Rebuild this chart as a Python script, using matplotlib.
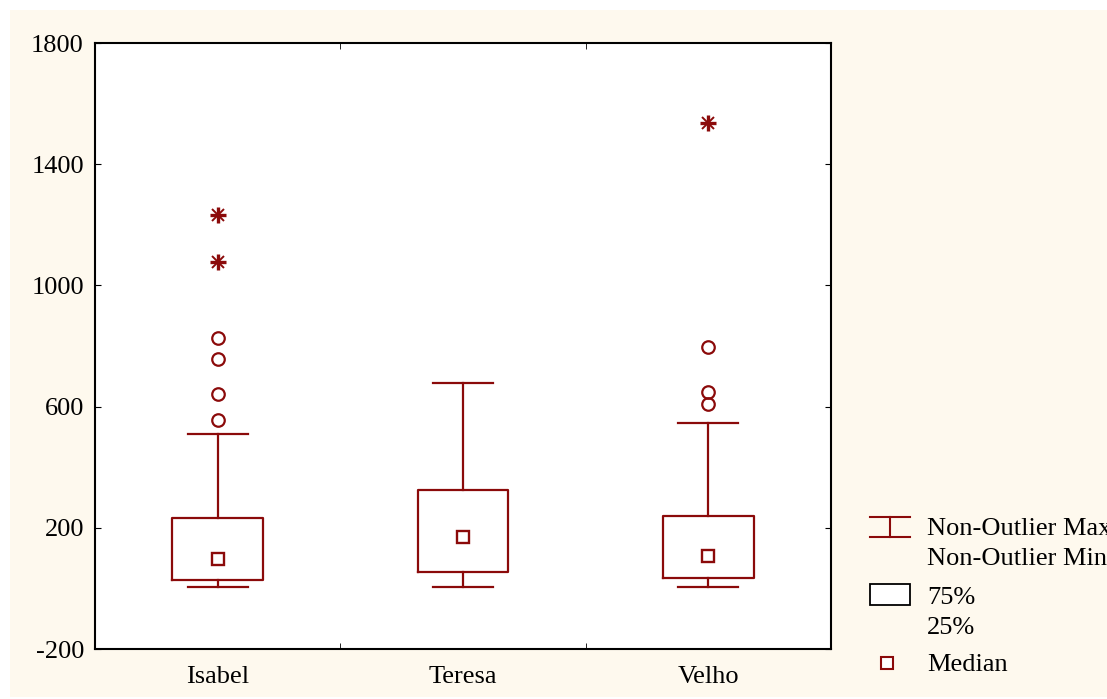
import matplotlib
matplotlib.use('Agg')
import matplotlib.pyplot as plt
from matplotlib.patches import Rectangle
from matplotlib.lines import Line2D

plt.rcParams['font.family'] = ['Liberation Serif', 'DejaVu Serif']
plt.rcParams['axes.unicode_minus'] = False

# Data
groups = ['Isabel', 'Teresa', 'Velho']
q1 = [28, 54, 34]
q3 = [232, 325, 239]
medians = [97, 170, 107]
whisk_lo = [5, 5, 5]
whisk_hi = [510, 678, 546]
outliers = [[826, 757, 642, 556], [], [797, 648, 609]]
extremes = [[1232, 1077], [], [1536]]

red = '#8B0A0A'
cream = '#FEF9EE'

fig = plt.figure(figsize=(11.07, 6.99), dpi=100)
fig.patches.append(Rectangle((10 / 1107, 0.003), 1, 1 - 10 / 699 - 0.003,
                             transform=fig.transFigure, facecolor=cream,
                             edgecolor='none', zorder=-10))

ax = fig.add_axes([95 / 1107, 1 - 649 / 699, (831 - 95) / 1107, (649 - 43) / 699])
ax.set_facecolor('white')

positions = [1, 2, 3]
stats = []
for i in range(3):
    stats.append(dict(med=medians[i], q1=q1[i], q3=q3[i],
                      whislo=whisk_lo[i], whishi=whisk_hi[i], fliers=[]))

ax.bxp(stats, positions=positions, widths=0.37, showfliers=False,
       boxprops=dict(color=red, linewidth=1.6),
       whiskerprops=dict(color=red, linewidth=1.6),
       capprops=dict(color=red, linewidth=1.6),
       medianprops=dict(visible=False), capwidths=0.245)

ax.plot(positions, medians, 's', ms=9, mfc='white', mec=red, mew=1.7, ls='none')
for p, vals in zip(positions, outliers):
    if vals:
        ax.plot([p] * len(vals), vals, 'o', ms=9, mfc='none', mec=red, mew=1.6, ls='none')
for p, vals in zip(positions, extremes):
    if vals:
        ax.plot([p] * len(vals), vals, '+', ms=11, mec=red, mew=2.4, ls='none')
        ax.plot([p] * len(vals), vals, 'x', ms=9, mec=red, mew=1.4, ls='none')

ax.set_xlim(0.5, 3.5)
ax.set_ylim(-200, 1800)
ax.set_yticks([-200, 200, 600, 1000, 1400, 1800])
ax.set_xticks(positions)
ax.set_xticklabels(groups)
ax.set_xticks([1.5, 2.5], minor=True)
ax.tick_params(axis='x', which='major', length=0, labelsize=19, pad=12)
ax.tick_params(axis='x', which='minor', direction='in', length=4, top=True, bottom=True)
ax.tick_params(axis='y', direction='in', length=4, right=True, labelsize=19, pad=8)
for s in ax.spines.values():
    s.set_linewidth(1.5)

# legend drawn in figure pixels
def fx(x):
    return x / 1107

def fy(y):
    return 1 - y / 699

tr = fig.transFigure
fig.add_artist(Line2D([fx(870), fx(910)], [fy(517), fy(517)], color=red, lw=1.5, transform=tr))
fig.add_artist(Line2D([fx(870), fx(910)], [fy(537), fy(537)], color=red, lw=1.5, transform=tr))
fig.add_artist(Line2D([fx(890), fx(890)], [fy(517), fy(537)], color=red, lw=1.5, transform=tr))
fig.add_artist(Rectangle((fx(870), fy(605)), fx(40), 21 / 699, transform=tr,
                         facecolor='white', edgecolor='black', lw=1.3))
fig.add_artist(Line2D([fx(887)], [fy(663)], marker='s', ms=8, mfc='white', mec=red,
                      mew=1.5, ls='none', transform=tr))

txt = dict(fontsize=19, va='center', ha='left')
fig.text(fx(927), fy(529), 'Non-Outlier Max', **txt)
fig.text(fx(927), fy(559), 'Non-Outlier Min', **txt)
fig.text(fx(927), fy(598), '75%', **txt)
fig.text(fx(927), fy(628), '25%', **txt)
fig.text(fx(927), fy(665), 'Median', **txt)

fig.savefig('out.png', dpi=100, facecolor='white')
